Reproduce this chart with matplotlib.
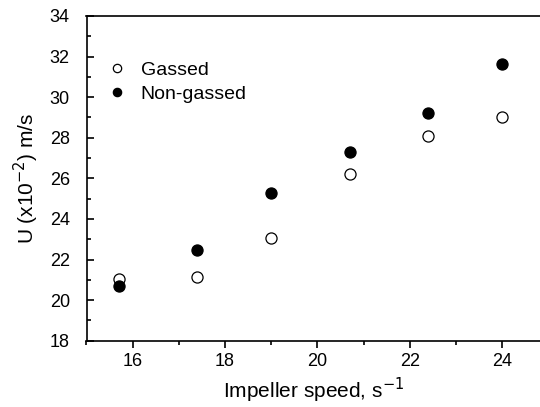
import matplotlib
matplotlib.use("Agg")
import matplotlib.pyplot as plt
from matplotlib.ticker import MultipleLocator

plt.rcParams['font.family'] = ['Liberation Sans', 'DejaVu Sans']

speed = [15.7, 17.4, 19.0, 20.7, 22.4, 24.0]
gassed = [21.03, 21.13, 23.08, 26.2, 28.08, 29.0]
non_gassed = [20.7, 22.45, 25.29, 27.32, 29.23, 31.63]
xticks = [16, 18, 20, 22, 24]
yticks = [18, 20, 22, 24, 26, 28, 30, 32, 34]

fig = plt.figure(figsize=(5.4, 4.07), dpi=100)
ax = fig.add_axes([86.5/540, 66.3/407, (540-86.5)/540, (340.7-16)/407])

ax.plot(speed, gassed, linestyle='none', marker='o', ms=8, mfc='white',
        mec='black', mew=0.9, label='Gassed')
ax.plot(speed, non_gassed, linestyle='none', marker='o', ms=8, mfc='black',
        mec='black', mew=0.9, label='Non-gassed')

ax.set_xlim(15, 15 + 453.5/46.2)
ax.set_ylim(18, 34)
ax.set_xticks(xticks)
ax.set_yticks(yticks)
ax.xaxis.set_minor_locator(MultipleLocator(1))
ax.yaxis.set_minor_locator(MultipleLocator(1))
ax.tick_params(axis='x', which='major', direction='out', length=5, width=1.2,
               labelsize=13, pad=4)
ax.tick_params(axis='x', which='minor', direction='out', length=3, width=1.2)
ax.tick_params(axis='y', which='major', direction='in', length=5, width=1.2,
               labelsize=13, pad=12)
ax.tick_params(axis='y', which='minor', direction='in', length=3, width=1.2)
ax.spines['right'].set_visible(False)
for s in ['left', 'bottom', 'top']:
    ax.spines[s].set_linewidth(1.2)

ax.set_xlabel('Impeller speed, s$^{-1}$', fontsize=15, labelpad=4)
ax.set_ylabel('U (x10$^{-2}$) m/s', fontsize=15, labelpad=6)

ax.legend(loc='upper left', bbox_to_anchor=(0.025, 0.885), frameon=False,
          fontsize=14, markerscale=0.75, handletextpad=0.6, labelspacing=0.35,
          handlelength=1.2, borderaxespad=0)

fig.savefig('out.png', dpi=100)
